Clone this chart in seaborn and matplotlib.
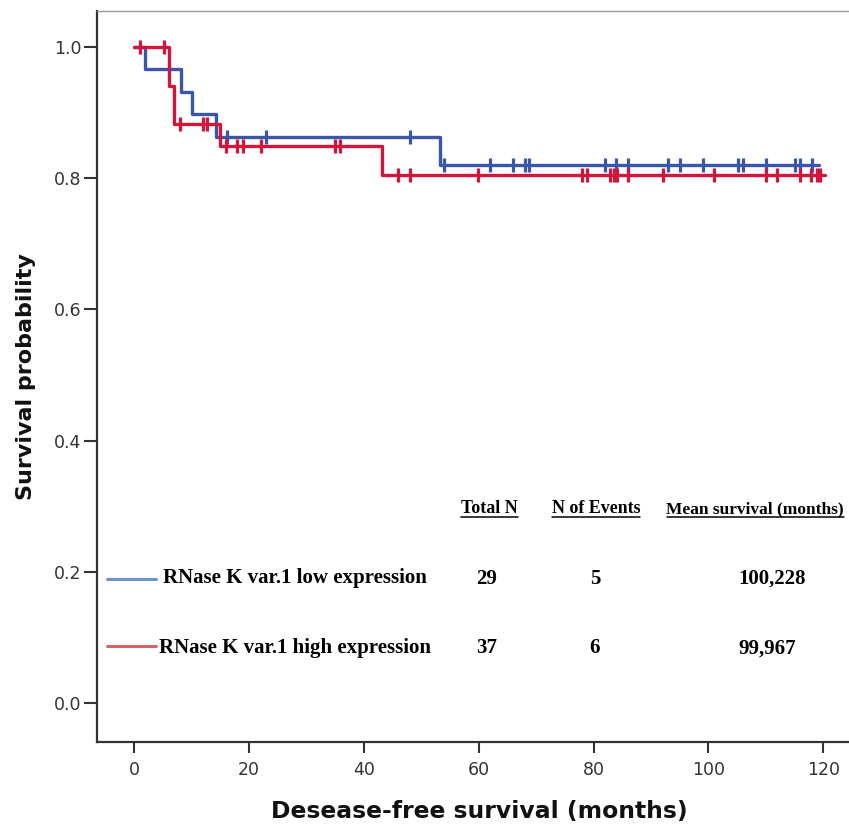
import numpy as np
import pandas as pd
import matplotlib
matplotlib.use("Agg")
import matplotlib.pyplot as plt
import seaborn as sns
from matplotlib.lines import Line2D

# ---------------- data ----------------
groups = ["RNase K var.1 low expression", "RNase K var.1 high expression"]

low_step_times = [0.0, 1.85, 8.1, 10.1, 14.2, 53.3, 119.2]
low_step_surv = [1.0, 0.9656, 0.9315, 0.897, 0.862, 0.820, 0.820]
low_censor_times = [16.1, 22.9, 48.0, 54.0, 62.0, 66.0, 68.0, 68.8, 82.0, 83.9,
                    86.0, 93.0, 95.0, 99.0, 105.2, 106.0, 110.0, 115.1, 115.9, 118.0]

high_step_times = [0.0, 6.1, 6.9, 14.9, 43.1, 120.3]
high_step_surv = [1.0, 0.9406, 0.8818, 0.8493, 0.8047, 0.8047]
high_censor_times = [1.0, 5.2, 8.0, 12.0, 12.7, 16.0, 17.9, 19.0, 22.1, 35.0, 35.8,
                     46.0, 48.0, 59.9, 78.0, 78.8, 82.9, 83.5, 84.1, 86.0, 92.1,
                     100.9, 110.1, 112.0, 116.0, 117.8, 118.9, 119.5]

table_headers = ["Total N", "N of Events", "Mean survival (months)"]
total_n = ["29", "37"]
n_events = ["5", "6"]
mean_survival = ["100,228", "99,967"]

x_ticks = [0, 20, 40, 60, 80, 100, 120]
y_ticks = [0.0, 0.2, 0.4, 0.6, 0.8, 1.0]

x_label = "Desease-free survival (months)"
y_label = "Survival probability"

line_colors = ["#3A56A8", "#D3143B"]
legend_colors = ["#6C93D0", "#D26666"]

# ---------------- build tables ----------------
step_rows = []
cens_rows = []
for g, st, ss, ct in [
    (groups[0], low_step_times, low_step_surv, low_censor_times),
    (groups[1], high_step_times, high_step_surv, high_censor_times),
]:
    for t, s in zip(st, ss):
        step_rows.append({"time": t, "surv": s, "group": g})
    st_arr = np.asarray(st)
    ss_arr = np.asarray(ss)
    for t in ct:
        idx = np.searchsorted(st_arr, t, side="right") - 1
        cens_rows.append({"time": t, "surv": ss_arr[idx], "group": g})
steps_df = pd.DataFrame(step_rows)
cens_df = pd.DataFrame(cens_rows)

# ---------------- figure ----------------
sns.set_theme(style="ticks")
plt.rcParams["font.family"] = ["DejaVu Sans"]

W, H = 849, 825
fig = plt.figure(figsize=(W / 100, H / 100), dpi=100)
fig.patch.set_facecolor("white")
ax = fig.add_axes([96.7 / W, 1 - 741.7 / H, (W - 96.7) / W, (741.7 - 11) / H])

pal = dict(zip(groups, line_colors))
sns.lineplot(data=steps_df, x="time", y="surv", hue="group", hue_order=groups,
             palette=pal, estimator=None, sort=False, drawstyle="steps-post",
             linewidth=2.4, legend=False, ax=ax)
sns.scatterplot(data=cens_df, x="time", y="surv", hue="group", hue_order=groups,
                palette=pal, marker="|", s=105, linewidth=2.3, legend=False,
                ax=ax, zorder=3)

ax.set_xlim(-6.55, 124.5)
ax.set_ylim(-0.0582, 1.0544)
ax.set_xticks(x_ticks)
ax.set_xticklabels([str(v) for v in x_ticks])
ax.set_yticks(y_ticks)
ax.set_yticklabels([f"{v:.1f}" for v in y_ticks])

ax.tick_params(axis="x", length=7.7, width=1.5, pad=6.5, labelsize=12.5,
               color="#333333", labelcolor="#333333")
ax.tick_params(axis="y", length=9.5, width=1.5, pad=1.7, labelsize=12.5,
               color="#333333", labelcolor="#333333")

ax.spines["right"].set_visible(False)
ax.spines["top"].set_color("#9a9a9a")
ax.spines["top"].set_linewidth(1.0)
for sp in ["left", "bottom"]:
    ax.spines[sp].set_color("#333333")
    ax.spines[sp].set_linewidth(1.6)

ax.set_xlabel(x_label, fontsize=16.9, fontweight="bold", color="#111111", va="baseline")
ax.xaxis.set_label_coords((479.5 - 96.7) / (W - 96.7), -(818.3 - 741.7) / (741.7 - 11))
ax.set_ylabel(y_label, fontsize=16, fontweight="bold", color="#111111", va="baseline")
ax.yaxis.set_label_coords((32.5 - 96.7) / (W - 96.7), 0.5)
ax.grid(False)


# ---------------- legend / summary table ----------------
def ftext(x, y, s, **kw):
    return fig.text(x / W, 1 - y / H, s, **kw)


serif = dict(family=["Liberation Serif", "DejaVu Serif"], fontweight="bold", color="black")

header_x = [(489.5, "center"), (596.0, "center"), (666.5, "left")]
header_sizes = [12.9, 12.9, 12.5]
header_texts = []
for (hx, ha), fs, txt in zip(header_x, header_sizes, table_headers):
    header_texts.append(ftext(hx, 513.2, txt, ha=ha, va="baseline", fontsize=fs, **serif))

row_line_y = [579.0, 645.7]
row_base_y = [583.5, 653.3]
row_text_x = [162.7, 159.0]
for i in range(2):
    fig.add_artist(Line2D([107.3 / W, 155.7 / W], [1 - row_line_y[i] / H] * 2,
                          color=legend_colors[i], lw=2.2))
    ftext(row_text_x[i], row_base_y[i], groups[i], ha="left", va="baseline", fontsize=15, **serif)
    ftext(487.0, row_base_y[i], total_n[i], ha="center", va="baseline", fontsize=15, **serif)
    ftext(595.0, row_base_y[i], n_events[i], ha="center", va="baseline", fontsize=15, **serif)
    ftext(738.3, row_base_y[i], mean_survival[i], ha="left", va="baseline", fontsize=15, **serif)

fig.canvas.draw()
renderer = fig.canvas.get_renderer()
for t in header_texts:
    bb = t.get_window_extent(renderer)
    x0, x1 = bb.x0, min(bb.x1, W)
    fig.add_artist(Line2D([x0 / W, x1 / W], [1 - 517.3 / H] * 2, color="black", lw=1.1))

fig.savefig("out.png", dpi=100, facecolor="white")
